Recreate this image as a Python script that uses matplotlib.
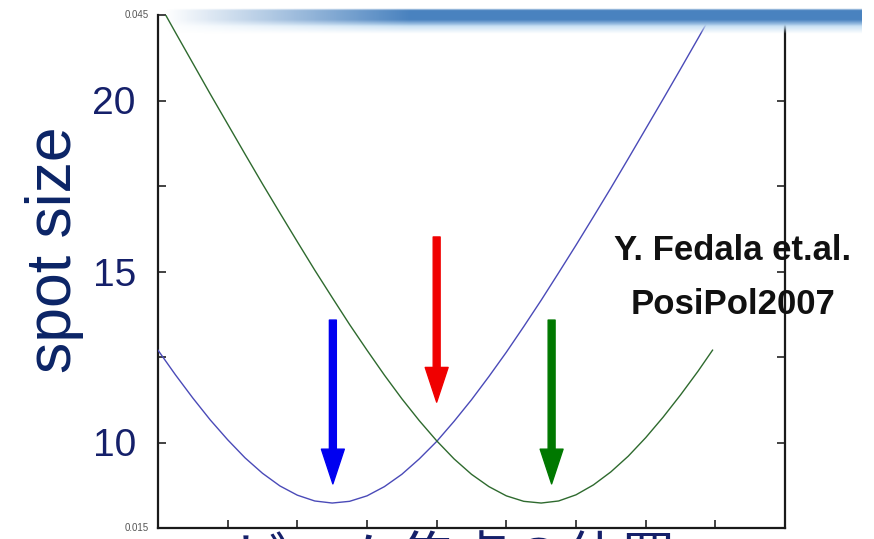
import numpy as np
import matplotlib
matplotlib.use("Agg")
import matplotlib.pyplot as plt

# beam spot size vs. position, two focusing setups
pos = [0.00, 0.25, 0.50, 0.75, 1.00, 1.25, 1.50, 1.75, 2.00, 2.25, 2.50,
       2.75, 3.00, 3.25, 3.50, 3.75, 4.00, 4.25, 4.50, 4.75, 5.00, 5.25,
       5.50, 5.75, 6.00, 6.25, 6.50, 6.75, 7.00, 7.25, 7.50, 7.75, 8.00]
spot_blue = [12.70, 11.98, 11.30, 10.66, 10.08, 9.55, 9.10, 8.73, 8.46, 8.29, 8.23,
             8.28, 8.44, 8.71, 9.07, 9.52, 10.03, 10.62, 11.25, 11.93, 12.64, 13.39,
             14.16, 14.96, 15.77, 16.60, 17.44, 18.30, 19.17, 20.04, 20.92, 21.81, 22.71]
pos_g = [0.00, 0.25, 0.50, 0.75, 1.00, 1.25, 1.50, 1.75, 2.00, 2.25, 2.50,
         2.75, 3.00, 3.25, 3.50, 3.75, 4.00, 4.25, 4.50, 4.75, 5.00, 5.25,
         5.50, 5.75, 6.00, 6.25, 6.50, 6.75, 7.00, 7.25, 7.50, 7.75, 7.96]
spot_green = [22.90, 21.99, 21.09, 20.19, 19.31, 18.43, 17.56, 16.71, 15.87, 15.04, 14.24,
              13.45, 12.70, 11.97, 11.28, 10.64, 10.05, 9.52, 9.07, 8.71, 8.44, 8.28,
              8.23, 8.29, 8.47, 8.76, 9.14, 9.60, 10.14, 10.74, 11.39, 12.08, 12.70]

# arrows: (x, y start, y tip, colour)
arrows = [(2.51, 13.58, 8.79, '#0000f0'),
          (4.00, 16.01, 11.18, '#f00000'),
          (5.65, 13.58, 8.79, '#007800')]

navy = '#15206a'

fig = plt.figure(figsize=(8.74, 5.39), dpi=100)
ax = fig.add_axes([158/874, 11/539, 627/874, 513/539])

ax.plot(pos, spot_blue, color='#4a4ab8', lw=1.0, zorder=3)
ax.plot(pos_g, spot_green, color='#2e6a2e', lw=1.0, zorder=3)

for x, y0, y1, c in arrows:
    ax.annotate('', xy=(x, y1), xytext=(x, y0),
                arrowprops=dict(arrowstyle='simple,head_length=2.5,head_width=1.65,tail_width=0.5',
                                color=c, shrinkA=0, shrinkB=0, mutation_scale=10),
                zorder=4)

ax.set_xlim(0, 9)
ax.set_ylim(7.5, 22.5)
ax.set_xticks(range(1, 9))
ax.set_xticklabels([])
ax.set_yticks([10, 15, 20])
ax.set_yticks([7.5, 12.5, 17.5, 22.5], minor=True)
ax.tick_params(axis='both', which='both', direction='in', length=6, width=1.2,
               right=True, top=False, color='#222222')
ax.tick_params(axis='y', which='major', labelsize=28, labelcolor=navy, pad=16)
for lab in ax.get_yticklabels():
    lab.set_family('Liberation Sans')
for s in ['left', 'right', 'bottom']:
    ax.spines[s].set_linewidth(1.6)
    ax.spines[s].set_color('#1a1a1a')
ax.spines['top'].set_visible(False)

# original small range labels at the corners
ax.text(-0.015, 1.0, '0.045', transform=ax.transAxes, ha='right', va='center',
        fontsize=7, color='#555555', family='Liberation Sans')
ax.text(-0.015, 0.0, '0.015', transform=ax.transAxes, ha='right', va='center',
        fontsize=7, color='#555555', family='Liberation Sans')

fig.text(55/874, 1 - 250/539, 'spot size', rotation=90, ha='center', va='center',
         fontsize=45, color='#0b2466', family='Liberation Sans')

fig.text(733/874, 1 - 250/539, 'Y. Fedala et.al.', ha='center', va='center',
         fontsize=25, fontweight='bold', color='#111111', family='Liberation Sans')
fig.text(733/874, 1 - 305/539, 'PosiPol2007', ha='center', va='center',
         fontsize=25, fontweight='bold', color='#111111', family='Liberation Sans')

fig.text(455/874, 1 - 533/539, 'ビーム焦点の位置', ha='center', va='top',
         fontsize=40, color=navy, family=['Noto Sans CJK JP', 'DejaVu Sans'])

# header band across the top
top = fig.add_axes([0, 0, 1, 1], zorder=5)
top.set_xlim(0, 874)
top.set_ylim(539, 0)
top.axis('off')
H, W = 40, 700
rows = np.linspace(0, 1, H)[:, None]
cols = np.linspace(0, 1, W)[None, :]
core = np.array([0.29, 0.51, 0.75])
light = np.array([0.75, 0.86, 0.95])
mix = np.clip((rows - 0.45) / 0.25, 0, 1)
rgb = core * (1 - mix[..., None]) + light * mix[..., None]
rgb = np.broadcast_to(rgb, (H, W, 3))
a_v = np.where(rows < 0.08, rows / 0.08, 1.0) * np.clip((1 - rows) / 0.35, 0, 1)
a_h = np.clip(cols / 0.35, 0, 1)
alpha = np.clip(a_v * a_h, 0, 1)
img = np.dstack([rgb, alpha])
top.imshow(img, extent=(165, 862, 34, 8), aspect='auto', interpolation='bilinear')

fig.savefig('out.png', dpi=100)
